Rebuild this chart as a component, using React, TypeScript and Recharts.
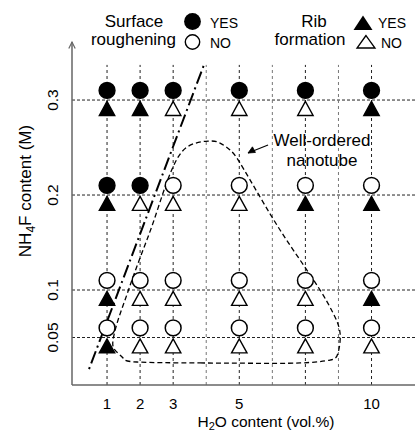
import React from 'react';
import {
  ComposedChart,
  XAxis,
  YAxis,
  Scatter,
  Line,
  ReferenceLine,
  ReferenceDot,
  Legend,
} from 'recharts';

const FONT = '"Liberation Sans", Arial, Helvetica, sans-serif';

// x axis: evenly spaced slots, labelled by H2O content
const xSlotLabels = ['1', '2', '3', '', '5', '', '', '', '10'];
const xTickSlots = [0, 1, 2, 4, 8];
const gridSlots = [0, 1, 2, 3, 4, 5, 6, 7, 8];
const minorSlots = [3, 5, 7];
// slot of each measured H2O column
const columnSlots = [0, 1, 2, 4, 6, 8];
// NH4F levels (M)
const nh4fLevels = [0.3, 0.2, 0.1, 0.05];
const yTicks = [0.05, 0.1, 0.2, 0.3];

// 1 = YES, 0 = NO ; rows follow nh4fLevels, columns follow columnSlots
const surfaceRoughening = [
  [1, 1, 1, 1, 1, 1],
  [1, 1, 0, 0, 0, 0],
  [0, 0, 0, 0, 0, 0],
  [0, 0, 0, 0, 0, 0],
];
const ribFormation = [
  [1, 1, 0, 0, 0, 1],
  [1, 0, 0, 0, 1, 1],
  [1, 0, 0, 0, 0, 1],
  [1, 0, 0, 0, 0, 0],
];

// dash-dot boundary line
const boundaryX = [-0.544, 2.964];
const boundaryY = [0.0168, 0.34];

// dashed "well-ordered nanotube" region outline
const nanotubeX = [
  2.813, 4.3, 5.838, 6.745, 6.987, 7.048, 6.836, 6.443, 5.838, 5.233, 4.628, 4.023, 3.72,
  3.418, 3.055, 2.42, 1.996, 1.694, 1.391, 1.089, 0.786, 0.544, 0.333, 0.181, 0.242, 0.484,
  0.907, 2.813,
];
const nanotubeY = [
  0.0232, 0.0229, 0.0232, 0.0263, 0.0337, 0.0547, 0.0758, 0.1, 0.1316, 0.1632, 0.1979,
  0.2337, 0.2474, 0.2547, 0.2568, 0.2505, 0.2295, 0.2021, 0.1705, 0.1421, 0.1137, 0.0895,
  0.0684, 0.0474, 0.0368, 0.0284, 0.0242, 0.0232,
];

// annotation arrow
const arrowX = [4.87, 4.265];
const arrowY = [0.2526, 0.2442];
const noteX = 6.5;
const noteY = 0.247;

const gridTop = 0.337;

type Pt = { x: number; y: number };

function buildMarks(matrix: number[][], want: number): Pt[] {
  const out: Pt[] = [];
  nh4fLevels.forEach((lvl, r) => {
    columnSlots.forEach((slot, c) => {
      if (matrix[r][c] === want) out.push({ x: slot, y: lvl });
    });
  });
  return out;
}

const roughYes = buildMarks(surfaceRoughening, 1);
const roughNo = buildMarks(surfaceRoughening, 0);
const ribYes = buildMarks(ribFormation, 1);
const ribNo = buildMarks(ribFormation, 0);

const boundaryData = boundaryX.map((x, i) => ({ x, y: boundaryY[i] }));
const nanotubeData = nanotubeX.map((x, i) => ({ x, y: nanotubeY[i] }));
const arrowData = arrowX.map((x, i) => ({ x, y: arrowY[i] }));

const circleShape = (filled: boolean) => (props: any) => {
  const { cx, cy } = props;
  if (cx == null || cy == null) return <g />;
  return (
    <circle
      cx={cx}
      cy={cy - 9.6}
      r={7.9}
      fill={filled ? '#000' : '#fff'}
      stroke="#000"
      strokeWidth={1.5}
    />
  );
};

const triangleShape = (filled: boolean) => (props: any) => {
  const { cx, cy } = props;
  if (cx == null || cy == null) return <g />;
  const pts = `${cx},${cy + 1.4} ${cx - 7.7},${cy + 15.4} ${cx + 7.7},${cy + 15.4}`;
  return (
    <polygon
      points={pts}
      fill={filled ? '#000' : '#fff'}
      stroke="#000"
      strokeWidth={1.4}
      strokeLinejoin="miter"
    />
  );
};

const arrowDot = (props: any) => {
  const { cx, cy, index } = props;
  if (index !== 1 || cx == null) return <g key={`a${index}`} />;
  return (
    <polygon
      key={`a${index}`}
      points={`${cx},${cy} ${cx + 7.4},${cy - 0.6} ${cx + 4.4},${cy - 6.2}`}
      fill="#000"
      stroke="#000"
      strokeWidth={0.8}
    />
  );
};

const YTick = (props: any) => {
  const { y, payload } = props;
  return (
    <text
      x={52}
      y={y}
      transform={`rotate(-90 52 ${y})`}
      textAnchor="middle"
      dy="0.36em"
      fontSize={15.5}
      fontFamily={FONT}
      fill="#000"
    >
      {String(payload.value)}
    </text>
  );
};

const YTitle = () => (
  <g>
    <text
      x={25}
      y={191}
      transform="rotate(-90 25 191)"
      textAnchor="middle"
      dy="0.36em"
      fontSize={17}
      fontFamily={FONT}
      fill="#000"
    >
      NH
      <tspan fontSize={12} dy={4}>
        4
      </tspan>
      <tspan dy={-4}>F content (M)</tspan>
    </text>
    <path d="M68.8,48.5 L72,42 L75.2,48.5" fill="none" stroke="#666" strokeWidth={1.2} />
  </g>
);

const XTitle = () => (
  <text x={266} y={426.5} textAnchor="middle" fontSize={15.5} fontFamily={FONT} fill="#000">
    H
    <tspan fontSize={11} dy={3}>
      2
    </tspan>
    <tspan dy={-3}>O content  (vol.%)</tspan>
  </text>
);

const NoteLabel = () => (
  <g fontFamily={FONT} fontSize={17} fill="#000">
    <text x={322} y={146} textAnchor="middle">
      Well-ordered
    </text>
    <text x={322} y={166} textAnchor="middle">
      nanotube
    </text>
  </g>
);

const LegendContent = () => (
  <svg width={416} height={56} style={{ display: 'block' }} fontFamily={FONT}>
    <text x={134} y={27} fontSize={17} textAnchor="middle" fill="#000">
      Surface
    </text>
    <text x={133.5} y={45} fontSize={17} textAnchor="middle" fill="#000">
      roughening
    </text>
    <circle cx={192.5} cy={21.5} r={8.4} fill="#000" />
    <circle cx={192.5} cy={42} r={7.2} fill="#fff" stroke="#000" strokeWidth={1.4} />
    <text x={210} y={28} fontSize={14} fill="#000">
      YES
    </text>
    <text x={210} y={47.5} fontSize={14} fill="#000">
      NO
    </text>
    <text x={314} y={27} fontSize={17} textAnchor="middle" fill="#000">
      Rib
    </text>
    <text x={310} y={45} fontSize={17} textAnchor="middle" fill="#000">
      formation
    </text>
    <polygon points="363,15.5 353.5,30 372.5,30" fill="#000" />
    <polygon points="366,35.5 357,48 375,48" fill="#fff" stroke="#000" strokeWidth={1.3} />
    <text x={378} y={28} fontSize={14} fill="#000">
      YES
    </text>
    <text x={381} y={47.5} fontSize={14} fill="#000">
      NO
    </text>
  </svg>
);

export default function App() {
  return (
    <div style={{ position: 'absolute', left: 0, top: 0, width: 416, height: 430 }}>
      <ComposedChart width={416} height={430} margin={{ top: 42, right: 1, bottom: 0, left: 0 }}>
        <XAxis
          type="number"
          dataKey="x"
          domain={[-1.06, 9.315]}
          allowDataOverflow
          ticks={xTickSlots}
          interval={0}
          tickFormatter={(v: number) => xSlotLabels[v] ?? ''}
          height={45}
          tickLine={false}
          tickSize={6}
          tickMargin={7}
          axisLine={{ stroke: '#666', strokeWidth: 1.5 }}
          tick={{ fontSize: 15, fill: '#000', fontFamily: FONT }}
          label={<XTitle />}
        />
        <YAxis
          type="number"
          dataKey="y"
          domain={[0, 0.3611]}
          allowDataOverflow
          ticks={yTicks}
          interval={0}
          width={72}
          tickLine={false}
          axisLine={{ stroke: '#666', strokeWidth: 1.5 }}
          tick={<YTick />}
          label={<YTitle />}
        />
        <Legend
          layout="vertical"
          align="center"
          verticalAlign="middle"
          wrapperStyle={{ top: 0, left: 0, width: 416, height: 56 }}
          content={<LegendContent />}
        />
        {nh4fLevels.map((lvl) => (
          <ReferenceLine
            key={`h${lvl}`}
            y={lvl}
            stroke="#222"
            strokeWidth={1}
            strokeDasharray="3 2"
          />
        ))}
        {gridSlots.map((s) => (
          <ReferenceLine
            key={`v${s}`}
            segment={[
              { x: s, y: 0 },
              { x: s, y: gridTop },
            ]}
            stroke={minorSlots.includes(s) ? '#777' : '#222'}
            strokeWidth={1}
            strokeDasharray="3 3"
          />
        ))}
        <Scatter data={roughYes} shape={circleShape(true)} isAnimationActive={false} legendType="none" />
        <Scatter data={roughNo} shape={circleShape(false)} isAnimationActive={false} legendType="none" />
        <Scatter data={ribYes} shape={triangleShape(true)} isAnimationActive={false} legendType="none" />
        <Scatter data={ribNo} shape={triangleShape(false)} isAnimationActive={false} legendType="none" />
        <Line
          data={nanotubeData}
          dataKey="y"
          type="natural"
          stroke="#000"
          strokeWidth={1.3}
          strokeDasharray="5 3"
          dot={false}
          activeDot={false}
          isAnimationActive={false}
          legendType="none"
        />
        <Line
          data={boundaryData}
          dataKey="y"
          type="linear"
          stroke="#000"
          strokeWidth={2}
          strokeDasharray="2 4 13 4"
          dot={false}
          activeDot={false}
          isAnimationActive={false}
          legendType="none"
        />
        <Line
          data={arrowData}
          dataKey="y"
          type="linear"
          stroke="#000"
          strokeWidth={1.2}
          dot={arrowDot}
          activeDot={false}
          isAnimationActive={false}
          legendType="none"
        />
        <ReferenceDot x={noteX} y={noteY} r={0} fill="none" stroke="none" label={<NoteLabel />} />
      </ComposedChart>
    </div>
  );
}
